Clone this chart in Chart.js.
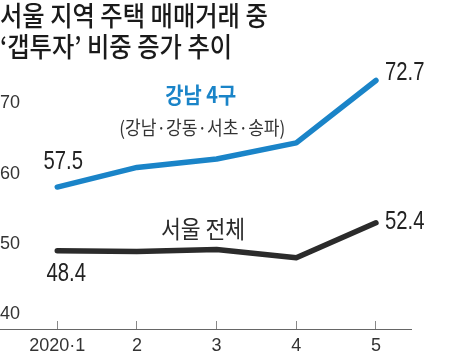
<!DOCTYPE html>
<html>
<head>
<meta charset="utf-8">
<script src="https://cdn.jsdelivr.net/npm/chart.js@4"></script>
<style>
  html, body { margin: 0; padding: 0; background: #fff; }
  #wrap { position: relative; width: 450px; height: 355px; overflow: hidden; }
  #title { position: absolute; left: 0; top: -1px; font-family: 'Noto Sans CJK KR', sans-serif; font-weight: 500; font-size: 27px; line-height: 31px; color: #1a1a1a; white-space: nowrap; transform: scaleX(0.9); transform-origin: 0 0; }
  canvas { position: absolute; left: 0; top: 0; }
</style>
</head>
<body>
<div id="wrap">
  <canvas id="c" width="450" height="355"></canvas>
  <div id="title">서울 지역 주택 매매거래 중<br>‘갭투자’ 비중 증가 추이</div>
</div>
<script>
const categories = ['2020·1', '2', '3', '4', '5'];
const gangnam = [57.5, 60.3, 61.5, 63.8, 72.7];
const seoul = [48.4, 48.3, 48.6, 47.4, 52.4];
const yTicks = [40, 50, 60, 70];
const seriesNames = ['강남 4구', '서울 전체'];
const gangnamSub = '(강남·강동·서초·송파)';

const SANS = "'Liberation Sans', Arial, sans-serif";
const KR = "'Noto Sans CJK KR', sans-serif";
const BLUE = '#1a84c8';
const DARK = '#2b2b2b';

const toXY = arr => arr.map((v, i) => ({ x: i + 1, y: v }));

function drawText(ctx, text, x, y, font, color, align, sx) {
  ctx.save();
  ctx.translate(x, y);
  ctx.scale(sx, 1);
  ctx.font = font;
  ctx.fillStyle = color;
  ctx.textAlign = align;
  ctx.textBaseline = 'middle';
  ctx.fillText(text, 0, 0);
  ctx.restore();
}

const annotations = {
  id: 'annotations',
  afterDatasetsDraw(chart) {
    const ctx = chart.ctx;
    const xs = chart.scales.x, ys = chart.scales.y;
    const valLabel = (dsIndex, ptIndex, dx, dy, align) => {
      const pt = chart.getDatasetMeta(dsIndex).data[ptIndex];
      const v = chart.data.datasets[dsIndex].data[ptIndex].y;
      drawText(ctx, v.toFixed(1), pt.x + dx, pt.y + dy, '26px ' + SANS, '#222', align, 0.78);
    };
    valLabel(0, 0, 6, -25, 'center');
    valLabel(0, 4, 9, -8, 'left');
    valLabel(1, 0, 9, 23, 'center');
    valLabel(1, 4, 9, -1, 'left');

    drawText(ctx, seriesNames[0], xs.getPixelForValue(2.8), ys.getPixelForValue(70.7), 'bold 22px ' + KR, BLUE, 'center', 0.9);
    drawText(ctx, gangnamSub, xs.getPixelForValue(2.82), ys.getPixelForValue(66.0), '19px ' + KR, '#333', 'center', 0.9);
    drawText(ctx, seriesNames[1], xs.getPixelForValue(2.83), ys.getPixelForValue(51.6), '24px ' + KR, '#2a2a2a', 'center', 0.9);
  }
};

new Chart(document.getElementById('c'), {
  type: 'line',
  data: {
    datasets: [
      { label: seriesNames[0], data: toXY(gangnam), borderColor: BLUE, borderWidth: 5.5, pointRadius: 0, tension: 0, borderCapStyle: 'round', borderJoinStyle: 'round' },
      { label: seriesNames[1], data: toXY(seoul), borderColor: DARK, borderWidth: 5.5, pointRadius: 0, tension: 0, borderCapStyle: 'round', borderJoinStyle: 'round' }
    ]
  },
  options: {
    responsive: false,
    animation: false,
    layout: { padding: { top: 70, right: 39, left: 0, bottom: 0 } },
    plugins: { legend: { display: false }, tooltip: { enabled: false }, title: { display: false } },
    scales: {
      x: {
        type: 'linear',
        min: 0.281,
        max: 5.44,
        afterBuildTicks: s => { s.ticks = categories.map((_, i) => ({ value: i + 1 })); },
        afterFit: s => { s.height = 26; },
        ticks: {
          autoSkip: false, maxRotation: 0, padding: 14,
          callback: v => categories[v - 1],
          font: { family: SANS, size: 18 }, color: '#333'
        },
        grid: { drawOnChartArea: false, tickLength: -8, color: '#888', lineWidth: 1 },
        border: { display: true, color: '#666', width: 1 }
      },
      y: {
        type: 'linear',
        min: 37.25,
        max: 74.2,
        afterBuildTicks: s => { s.ticks = yTicks.map(v => ({ value: v })); },
        afterFit: s => { s.width = 0; },
        ticks: { mirror: true, padding: 0, labelOffset: 4, font: { family: SANS, size: 18 }, color: '#333' },
        grid: { display: false },
        border: { display: false }
      }
    }
  },
  plugins: [annotations]
});
</script>
</body>
</html>
